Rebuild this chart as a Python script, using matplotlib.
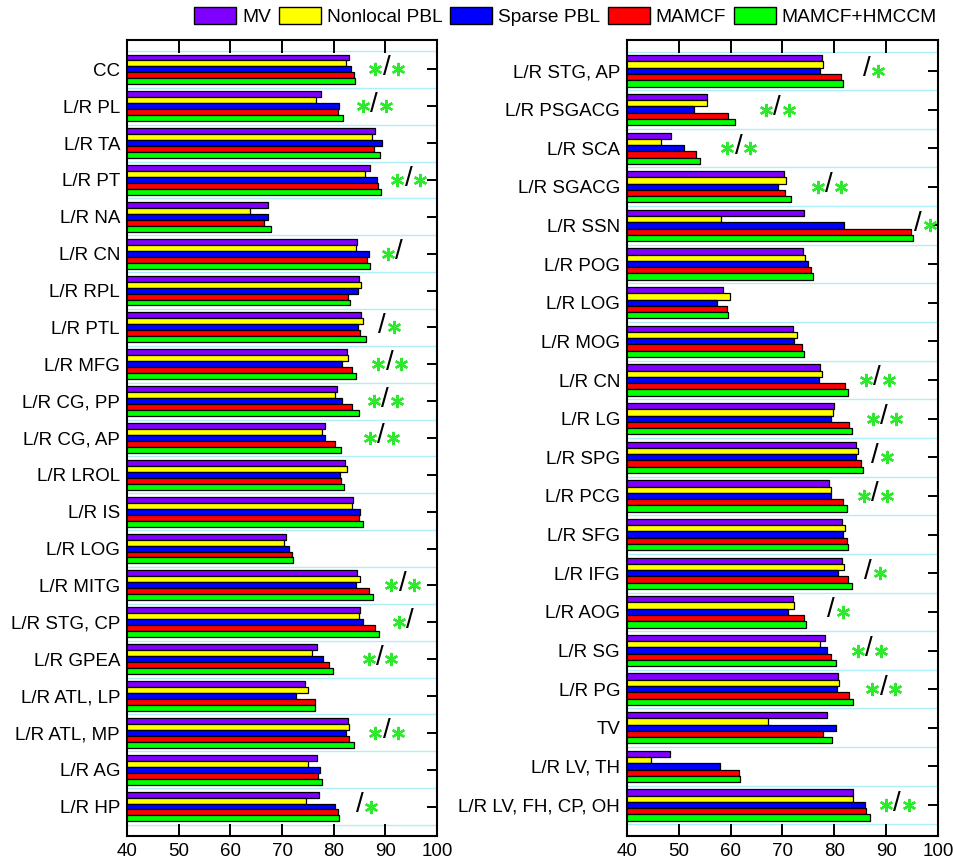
import numpy as np
import matplotlib.pyplot as plt
from matplotlib.patches import Patch
from matplotlib.transforms import offset_copy

plt.rcParams['font.family'] = ['Liberation Sans', 'DejaVu Sans']

series = ["MV", "Nonlocal PBL", "Sparse PBL", "MAMCF", "MAMCF+HMCCM"]
colors = ["#8000ff", "#ffff00", "#0000ff", "#ff0000", "#00ff00"]

# left panel
left_labels = ["CC", "L/R PL", "L/R TA", "L/R PT", "L/R NA", "L/R CN", "L/R RPL",
               "L/R PTL", "L/R MFG", "L/R CG, PP", "L/R CG, AP", "L/R LROL", "L/R IS",
               "L/R LOG", "L/R MITG", "L/R STG, CP", "L/R GPEA", "L/R ATL, LP",
               "L/R ATL, MP", "L/R AG", "L/R HP"]
left_mv = [82.9, 77.5, 87.9, 87.0, 67.3, 84.6, 84.9, 85.2, 82.6, 80.6, 78.4, 82.1,
           83.7, 70.7, 84.6, 85.1, 76.8, 74.5, 82.7, 76.7, 77.2]
left_nonlocal = [82.3, 76.6, 87.5, 86.0, 63.8, 84.4, 85.3, 85.6, 82.7, 80.3, 77.7, 82.5,
                 83.6, 70.3, 85.0, 84.9, 75.8, 75.1, 83.0, 75.0, 74.6]
left_sparse = [83.3, 81.0, 89.4, 88.4, 67.2, 86.8, 84.7, 84.8, 81.7, 81.6, 78.4, 81.3,
               85.1, 71.4, 84.3, 85.6, 78.0, 72.8, 82.4, 77.4, 80.3]
left_mamcf = [83.9, 80.9, 87.8, 88.6, 66.5, 86.4, 82.8, 85.1, 83.5, 83.5, 80.3, 81.5,
              84.9, 71.9, 86.8, 88.0, 79.1, 76.3, 83.0, 77.0, 80.8]
left_hmccm = [84.2, 81.9, 88.9, 89.2, 67.9, 87.1, 83.1, 86.2, 84.3, 84.9, 81.5, 82.0,
              85.6, 72.2, 87.7, 88.7, 79.9, 76.3, 83.9, 77.8, 81.1]
left_marks = ["*/*", "*/*", "", "*/*", "", "*/", "", "/*", "*/*", "*/*", "*/*", "",
              "", "", "*/*", "*/", "*/*", "", "*/*", "", "/*"]
left_mark_x = [90.2, 87.8, 0, 94.5, 0, 92.6, 0, 89.4, 90.8, 90.0, 89.2, 0,
               0, 0, 93.3, 94.7, 88.9, 0, 90.2, 0, 85.0]

# right panel
right_labels = ["L/R STG, AP", "L/R PSGACG", "L/R SCA", "L/R SGACG", "L/R SSN",
                "L/R POG", "L/R LOG", "L/R MOG", "L/R CN", "L/R LG", "L/R SPG",
                "L/R PCG", "L/R SFG", "L/R IFG", "L/R AOG", "L/R SG", "L/R PG", "TV",
                "L/R LV, TH", "L/R LV, FH, CP, OH"]
right_mv = [77.7, 55.4, 48.4, 70.2, 74.1, 74.0, 58.6, 72.0, 77.2, 79.9, 84.2, 79.0,
            81.5, 81.4, 72.0, 78.3, 80.8, 78.5, 48.3, 83.7]
right_nonlocal = [77.9, 55.4, 46.6, 70.6, 58.1, 74.3, 59.8, 72.8, 77.6, 79.8, 84.6, 79.3,
                  82.1, 81.8, 72.3, 77.2, 81.0, 67.2, 44.7, 83.6]
right_sparse = [77.3, 52.9, 51.0, 69.2, 81.8, 75.0, 57.4, 72.3, 77.0, 79.4, 84.2, 79.4,
                81.6, 80.8, 71.1, 78.6, 80.6, 80.4, 57.9, 85.9]
right_mamcf = [81.2, 59.4, 53.4, 70.4, 94.7, 75.5, 59.3, 73.8, 82.1, 82.9, 85.1, 81.6,
               82.4, 82.7, 74.1, 79.3, 82.9, 77.9, 61.7, 86.1]
right_hmccm = [81.7, 60.8, 54.1, 71.6, 95.2, 75.8, 59.5, 74.2, 82.7, 83.5, 85.6, 82.5,
               82.6, 83.4, 74.5, 80.4, 83.7, 79.5, 61.8, 86.8]
right_marks = ["/*", "*/*", "*/*", "*/*", "/*", "", "", "", "*/*", "*/*", "/*", "*/*",
               "", "/*", "/*", "*/*", "*/*", "", "", "*/*"]
right_mark_x = [86.2, 68.9, 61.5, 79.0, 96.1, 0, 0, 0, 88.2, 89.6, 87.8, 87.8,
                0, 86.5, 79.4, 86.7, 89.5, 0, 0, 92.1]


def draw_panel(fig, ax, labels, values, marks, mark_x):
    n = len(labels)
    y = np.arange(n)
    h = 0.162
    for k, (vals, c) in enumerate(zip(values, colors)):
        ax.barh(y + (k - 2) * h, vals, height=h, color=c, edgecolor='black',
                linewidth=0.9, zorder=2)
    # light cyan separators between the groups
    for b in np.arange(-0.5, n):
        ax.axhline(b, color='#aeeef8', linewidth=1, zorder=1)

    ax.set_xlim(40, 100)
    ax.set_ylim(n - 0.5 + 0.3, -0.8)
    ax.set_xticks(range(40, 101, 10))
    ax.set_yticks(y, labels)
    ax.tick_params(axis='x', top=True, bottom=True, direction='in', length=9,
                   width=1.4, labelsize=13.5, pad=5)
    ax.tick_params(axis='y', left=False, right=True, direction='in', length=7,
                   width=1.4, labelsize=13.5, pad=5)
    for s in ax.spines.values():
        s.set_linewidth(1.5)

    # significance marks: green asterisks around a black slash
    left_star = offset_copy(ax.transData, fig, x=-8, y=0, units='points')
    right_star = offset_copy(ax.transData, fig, x=8.5, y=0, units='points')
    for yi, (m, xv) in enumerate(zip(marks, mark_x)):
        if not m:
            continue
        ax.text(xv, yi - 0.04, '/', ha='center', va='center', fontsize=20,
                color='black', zorder=4)
        if m.startswith('*'):
            ax.plot([xv], [yi], marker=(6, 2, 0), ms=9.5, mew=1.7,
                    color='#2ee82e', transform=left_star, zorder=4, clip_on=False)
        if m.endswith('*'):
            ax.plot([xv], [yi], marker=(6, 2, 0), ms=9.5, mew=1.7,
                    color='#2ee82e', transform=right_star, zorder=4, clip_on=False)


fig = plt.figure(figsize=(9.54, 8.63), dpi=100)
ax1 = fig.add_axes([0.1331, 0.0313, 0.325, 0.9224])
ax2 = fig.add_axes([0.6572, 0.0313, 0.326, 0.9224])

draw_panel(fig, ax1, left_labels,
           [left_mv, left_nonlocal, left_sparse, left_mamcf, left_hmccm],
           left_marks, left_mark_x)
draw_panel(fig, ax2, right_labels,
           [right_mv, right_nonlocal, right_sparse, right_mamcf, right_hmccm],
           right_marks, right_mark_x)

handles = [Patch(facecolor=c, edgecolor='black', linewidth=1) for c in colors]
fig.legend(handles, series, loc='upper right', bbox_to_anchor=(0.986, 0.996),
           ncol=5, frameon=False, fontsize=13.8, handlelength=2.2,
           handleheight=1.0, handletextpad=0.3, columnspacing=0.4,
           borderpad=0.2, borderaxespad=0)

fig.savefig("out.png", dpi=100)
plt.close()
